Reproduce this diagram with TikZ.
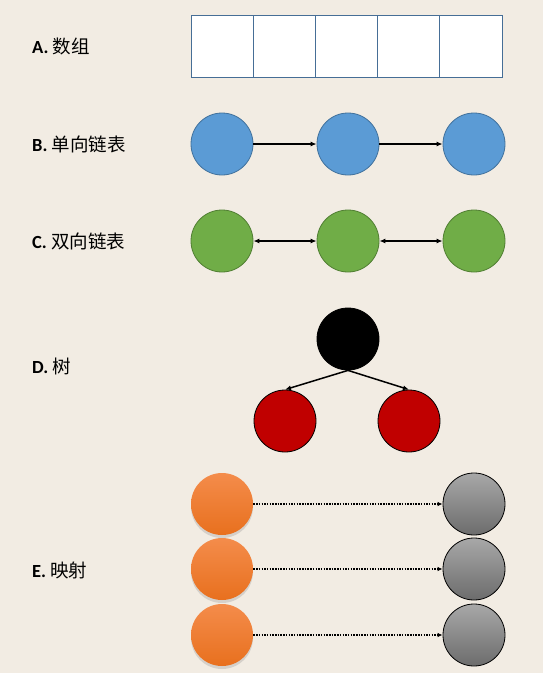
\documentclass[tikz,border=0pt]{standalone}
\usepackage{fontspec}
\setmainfont{Carlito}
\newfontfamily\cjk{Noto Sans CJK SC}
\usetikzlibrary{arrows.meta, shadows}
\definecolor{paper}{RGB}{242, 236, 227}
\definecolor{cellline}{RGB}{70, 110, 150}
\definecolor{nodeblue}{RGB}{91, 155, 213}
\definecolor{blueline}{RGB}{65, 113, 156}
\definecolor{nodegreen}{RGB}{112, 173, 71}
\definecolor{greenline}{RGB}{80, 126, 50}
\definecolor{nodered}{RGB}{192, 0, 0}
\definecolor{orangetop}{RGB}{244, 140, 75}
\definecolor{orangebot}{RGB}{232, 112, 30}
\definecolor{graytop}{RGB}{168, 168, 168}
\definecolor{graybot}{RGB}{108, 108, 108}

\begin{document}
\begin{tikzpicture}[x=1pt, y=-1pt,
  title/.style={anchor=west, inner sep=0pt, font=\fontsize{18.5}{22}\selectfont\bfseries},
  cell/.style={draw=cellline, fill=white, minimum width=62.2pt, minimum height=62pt, inner sep=0pt, line width=0.7pt},
  ball/.style={circle, minimum size=62pt, inner sep=0pt, line width=0.8pt},
  link/.style={-{Latex[length=6pt, width=5pt]}, line width=1.5pt},
  dlink/.style={{Latex[length=6pt, width=5pt]}-{Latex[length=6pt, width=5pt]}, line width=1.5pt},
  maplink/.style={-{Latex[length=5pt, width=4.5pt]}, line width=2pt, dash pattern=on 1.5pt off 1.2pt}
]
  \fill[paper] (0,0) rectangle (543,673);
  \useasboundingbox (0,0) rectangle (543,673);

  % labels
  \node[title] (tA) at (32,46)  {A. {\cjk\mdseries 数组}};
  \node[title] (tB) at (32,144) {B. {\cjk\mdseries 单向链表}};
  \node[title] (tC) at (32,241) {C. {\cjk\mdseries 双向链表}};
  \node[title] (tD) at (32,366) {D. {\cjk\mdseries 树}};
  \node[title] (tE) at (32,570) {E. {\cjk\mdseries 映射}};

  % A: array
  \foreach \i in {0,...,4}
    \node[cell] (cell\i) at (222.1+62.2*\i,46) {};

  % B: singly linked list
  \foreach \i/\x in {1/222, 2/348, 3/474}
    \node[ball, draw=blueline, fill=nodeblue] (b\i) at (\x,144) {};
  \draw[link] (b1) -- (b2);
  \draw[link] (b2) -- (b3);

  % C: doubly linked list
  \foreach \i/\x in {1/222, 2/348, 3/474}
    \node[ball, draw=greenline, fill=nodegreen] (c\i) at (\x,241) {};
  \draw[dlink] (c1) -- (c2);
  \draw[dlink] (c2) -- (c3);

  % D: tree
  \node[ball, draw=black, fill=black] (root) at (348,339) {};
  \node[ball, draw=black, fill=nodered] (left) at (285,421) {};
  \node[ball, draw=black, fill=nodered] (right) at (409,421) {};
  \draw[link] (root.south) -- (left.north);
  \draw[link] (root.south) -- (right.north);

  % E: map
  \foreach \i/\y in {1/504, 2/569, 3/635} {
    \node[ball, top color=orangetop, bottom color=orangebot,
      drop shadow={shadow xshift=0pt, shadow yshift=-3pt, opacity=0.25}] (key\i) at (222,\y) {};
    \node[ball, draw=black, top color=graytop, bottom color=graybot] (val\i) at (474,\y) {};
    \draw[maplink] (key\i) -- (val\i);
  }
\end{tikzpicture}
\end{document}
